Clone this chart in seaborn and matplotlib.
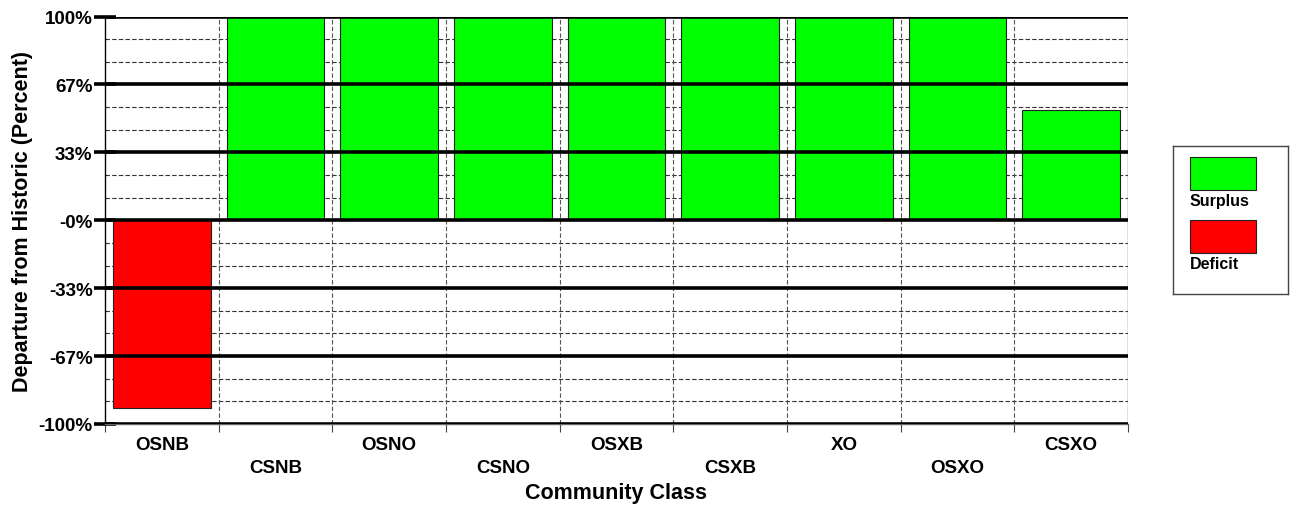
import matplotlib

matplotlib.use("Agg")
import matplotlib.pyplot as plt
import matplotlib.patches as mpatches
import numpy as np
import pandas as pd
import seaborn as sns

# chart data
classes = ["OSNB", "CSNB", "OSNO", "CSNO", "OSXB", "CSXB", "XO", "OSXO", "CSXO"]
departure = [-92, 100, 100, 100, 100, 100, 100, 100, 54]
major_ticks = [-100, -66.67, -33.33, 0, 33.33, 66.67, 100]
major_labels = ["-100%", "-67%", "-33%", "-0%", "33%", "67%", "100%"]
legend_names = ["Surplus", "Deficit"]
legend_colors = ["#00ff00", "#ff0000"]

df = pd.DataFrame({"cls": classes, "dep": departure})
df["kind"] = np.where(df["dep"] >= 0, "Surplus", "Deficit")

sns.set_style("white")
plt.rcParams["font.family"] = ["Liberation Sans", "DejaVu Sans"]
plt.rcParams["font.weight"] = "bold"
plt.rcParams["text.color"] = "black"
plt.rcParams["axes.labelcolor"] = "black"
plt.rcParams["xtick.color"] = "black"
plt.rcParams["ytick.color"] = "black"

W, H = 1291, 506
fig = plt.figure(figsize=(W / 100, H / 100), dpi=100)
ax = fig.add_axes([105 / W, 1 - 425 / H, (1128 - 105) / W, (425 - 17.5) / H])

pal = {"Surplus": "#00ff00", "Deficit": "#ff0000"}
sns.barplot(data=df, x="cls", y="dep", hue="kind", palette=pal, dodge=False,
            width=0.86, edgecolor="#222222", linewidth=0.8, legend=False,
            saturation=1, ax=ax, zorder=2)

ax.set_xlim(-0.5, len(classes) - 0.5)
ax.set_ylim(-100, 100)

# minor dashed grid (1/9 steps) under bars
for v in np.linspace(-100, 100, 19):
    ax.axhline(v, color="#333333", lw=0.8, ls=(0, (4, 2)), zorder=1)
for b in np.arange(0.5, len(classes) - 0.5, 1):
    ax.axvline(b, color="#555555", lw=0.8, ls=(0, (4, 2)), zorder=1)
# thick major lines over bars
for v in major_ticks:
    ax.axhline(v, color="black", lw=2.6, zorder=3)

ax.set_yticks(major_ticks)
ax.set_yticklabels(major_labels, fontsize=13.5, fontweight="bold")
ax.tick_params(axis="y", left=True, direction="inout", length=16, width=2.6,
               color="black", pad=1)

ax.set_xticks(range(len(classes)))
ax.set_xticklabels([c if i % 2 == 0 else "\n" + c for i, c in enumerate(classes)],
                   fontsize=13.5, fontweight="bold")
for t in ax.get_xticklabels():
    t.set_linespacing(1.45)
ax.tick_params(axis="x", which="major", bottom=False, length=0, pad=9)
ax.set_xticks(np.arange(-0.5, len(classes), 1), minor=True)
ax.tick_params(axis="x", which="minor", bottom=True, direction="out", length=6,
               width=0.8, color="#444444")

ax.set_xlabel("Community Class", fontsize=15.5, fontweight="bold", labelpad=4)
ax.set_ylabel("Departure from Historic (Percent)", fontsize=15.5, fontweight="bold",
              labelpad=4)

for side in ["top", "right"]:
    ax.spines[side].set_visible(False)
ax.spines["left"].set_color("black")
ax.spines["left"].set_linewidth(1.0)
ax.spines["bottom"].set_color("#666666")
ax.spines["bottom"].set_linewidth(1.0)
ax.axvline(len(classes) - 0.5, color="#666666", lw=1.0, zorder=1)

# legend drawn as its own box
lax = fig.add_axes([1173 / W, 1 - 295 / H, (1288 - 1173) / W, (295 - 147) / H])
lax.set_xlim(1173, 1288)
lax.set_ylim(295, 147)
lax.set_xticks([])
lax.set_yticks([])
for s in lax.spines.values():
    s.set_color("#444444")
    s.set_linewidth(1.0)
for i, (name, col) in enumerate(zip(legend_names, legend_colors)):
    top = 158 + i * 63
    lax.add_patch(mpatches.Rectangle((1190, top), 66, 33, facecolor=col,
                                     edgecolor="#222222", lw=0.8))
    lax.text(1190, top + 36, name, fontsize=11.5, fontweight="bold", va="top", ha="left")

fig.savefig("out.png", dpi=100)
